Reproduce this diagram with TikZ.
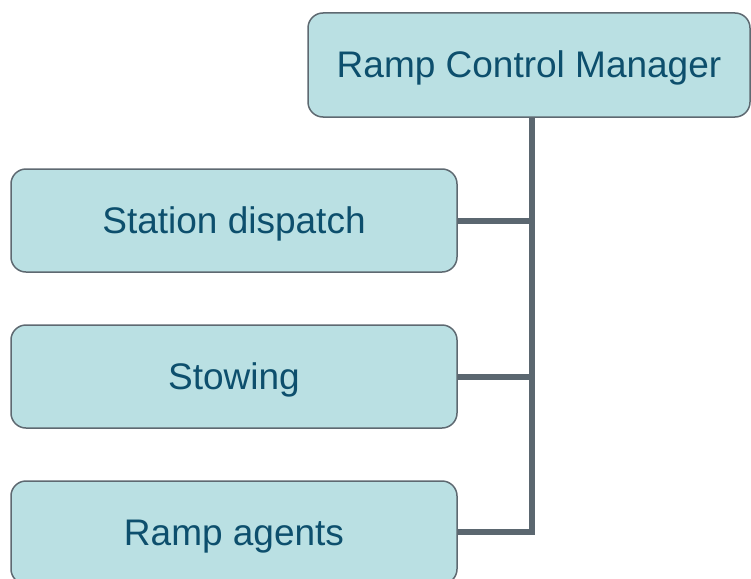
\documentclass[tikz,border=0pt]{standalone}
\usepackage{fontspec}
\setmainfont{Liberation Sans}
\usepackage{tikz}
\definecolor{boxfill}{HTML}{BAE0E3}
\definecolor{boxline}{HTML}{5E6971}
\definecolor{boxtext}{HTML}{0D4F6D}
\definecolor{linkcol}{HTML}{5B6770}
\tikzset{orgbox/.style={draw=boxline, fill=boxfill, line width=1.5pt, rounded corners=15pt,
  text=boxtext, font=\fontsize{37}{44}\selectfont, inner sep=0pt, text height=27pt, text depth=1.5pt},
  topbox/.style={orgbox, minimum width=442pt, minimum height=104pt},
  subbox/.style={orgbox, minimum width=446pt, minimum height=103pt},
  link/.style={linkcol, line width=6pt, line join=miter}}

\begin{document}
\begin{tikzpicture}[x=1pt, y=-1pt]
      \useasboundingbox (0, 0) rectangle (751, 578);

      \draw [link] (532, 117) |- (457, 221);
      \draw [link] (532, 117) |- (457, 377);
      \draw [link] (532, 117) |- (457, 532);

      \node [topbox] (manager) at (529, 65) {Ramp Control Manager};
      \node [subbox] (dispatch) at (234, 220.5) {Station dispatch};
      \node [subbox] (stowing) at (234, 376.5) {Stowing};
      \node [subbox] (agents) at (234, 532.5) {Ramp agents};
    \end{tikzpicture}
\end{document}
